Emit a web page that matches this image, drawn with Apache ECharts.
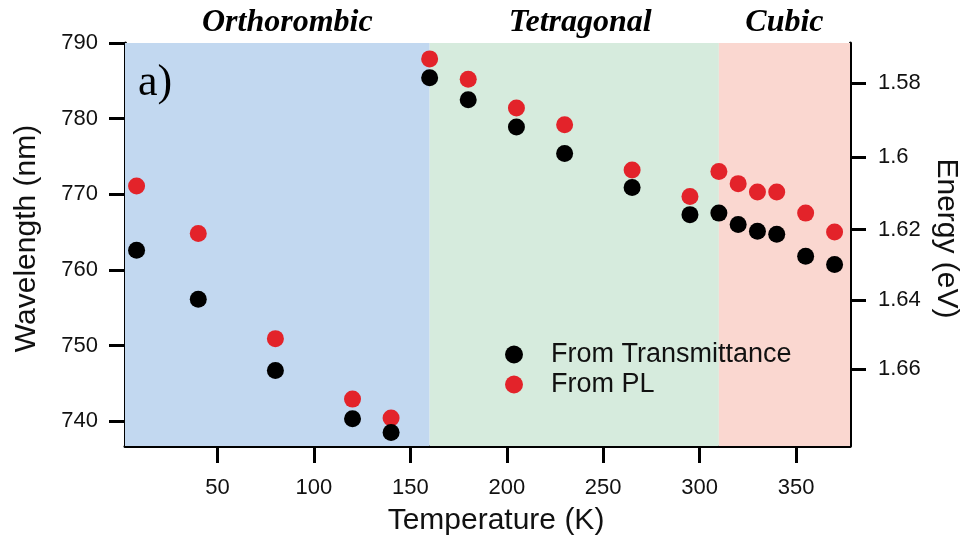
<!DOCTYPE html>
<html>
<head>
<meta charset="utf-8">
<title>Wavelength and energy vs temperature</title>
<script src="https://cdn.jsdelivr.net/npm/echarts@6.0.0/dist/echarts.min.js"></script>
<style>
  html, body { margin: 0; padding: 0; background: #ffffff; }
  #chart { width: 963px; height: 542px; }
</style>
</head>
<body>
<div id="chart"></div>
<script>
// Measurement temperatures (K), shared by both data sets
const temperatures = [8, 40, 80, 120, 140, 160, 180, 205, 230, 265, 295, 310, 320, 330, 340, 355, 370];
// Band-edge wavelength (nm) from transmittance spectra
const transmittance = [762.6, 756.1, 746.7, 740.3, 738.5, 785.4, 782.5, 778.9, 775.4, 770.9, 767.3, 767.5, 766.0, 765.1, 764.7, 761.8, 760.7];
// Emission peak wavelength (nm) from photoluminescence
const photoluminescence = [771.1, 764.8, 750.9, 742.9, 740.4, 787.9, 785.2, 781.4, 779.2, 773.2, 769.7, 773.0, 771.4, 770.3, 770.3, 767.5, 765.0];

// Crystal phase ranges (K)
const phaseNames = ['Orthorombic', 'Tetragonal', 'Cubic'];
const phaseStart = [2, 160, 310];
const phaseEnd = [160, 310, 378];
const phaseColors = ['#c2d8f0', '#d6ebdd', '#fad7d0'];

// Axis ticks
const temperatureTicks = [50, 100, 150, 200, 250, 300, 350];
const wavelengthTicks = [740, 750, 760, 770, 780, 790];
const energyTicks = [1.58, 1.6, 1.62, 1.64, 1.66];

// E (eV) = hc / lambda (nm)
const HC = 1239.84;

const sans = "'Liberation Sans', Arial, sans-serif";
const serif = "'Liberation Serif', 'Times New Roman', serif";

const toPairs = (xs, ys) => xs.map((x, i) => [x, ys[i]]);

const axisLineStyle = () => ({ show: true, lineStyle: { color: '#000', width: 3 } });
const tickStyle = (vals, len) => ({ show: true, inside: false, length: len, customValues: vals, lineStyle: { color: '#000', width: 3 } });

const chart = echarts.init(document.getElementById('chart'), null, { renderer: 'canvas' });

chart.setOption({
  animation: false,
  backgroundColor: '#ffffff',
  grid: { left: 125, right: 113, top: 43, bottom: 96, containLabel: false, outerBoundsMode: 'none' },
  legend: {
    orient: 'vertical',
    left: 500,
    top: 336,
    itemWidth: 18,
    itemHeight: 18,
    itemGap: 3,
    icon: 'circle',
    textStyle: { fontFamily: sans, fontSize: 27, color: '#111', padding: [0, 0, 0, 23] },
    data: ['From Transmittance', 'From PL']
  },
  xAxis: {
    type: 'value',
    min: 2,
    max: 378,
    name: 'Temperature (K)',
    nameLocation: 'middle',
    nameGap: 60,
    nameTextStyle: { fontFamily: sans, fontSize: 30, color: '#111', padding: [0, 0, 0, 17] },
    axisLine: axisLineStyle(),
    axisTick: tickStyle(temperatureTicks, 17),
    axisLabel: { customValues: temperatureTicks, margin: 31, fontFamily: sans, fontSize: 22, color: '#111' },
    splitLine: { show: false }
  },
  yAxis: [
    {
      type: 'value',
      position: 'left',
      min: 736.7,
      max: 790,
      name: 'Wavelength (nm)',
      nameLocation: 'middle',
      nameRotate: 90,
      nameGap: 83,
      nameTextStyle: { fontFamily: sans, fontSize: 30, color: '#111', padding: [0, 0, 0, 12] },
      axisLine: axisLineStyle(),
      axisTick: tickStyle(wavelengthTicks, 16),
      axisLabel: { customValues: wavelengthTicks, margin: 27, fontFamily: sans, fontSize: 22, color: '#111' },
      splitLine: { show: false }
    },
    {
      type: 'value',
      position: 'right',
      min: 736.7,
      max: 790,
      name: 'Energy (eV)',
      nameLocation: 'middle',
      nameRotate: -90,
      nameGap: 75,
      nameTextStyle: { fontFamily: sans, fontSize: 30, color: '#111', padding: [0, 12, 0, 0] },
      axisLine: axisLineStyle(),
      axisTick: tickStyle(energyTicks.map(e => HC / e), 16),
      axisLabel: {
        customValues: energyTicks.map(e => HC / e),
        margin: 28,
        fontFamily: sans,
        fontSize: 22,
        color: '#111',
        formatter: v => String(+(HC / v).toFixed(2))
      },
      splitLine: { show: false }
    }
  ],
  series: [
    {
      name: 'From Transmittance',
      type: 'scatter',
      yAxisIndex: 0,
      symbol: 'circle',
      symbolSize: 17,
      itemStyle: { color: '#000000', opacity: 1 },
      z: 3,
      data: toPairs(temperatures, transmittance),
      markArea: {
        silent: true,
        data: phaseNames.map((name, i) => [
          {
            name: name,
            xAxis: phaseStart[i],
            itemStyle: { color: phaseColors[i], opacity: 1 },
            label: { offset: [i === 0 ? 10 : (i === 1 ? 6 : 0), 0] }
          },
          { xAxis: phaseEnd[i] }
        ]),
        label: {
          show: true,
          position: 'top',
          distance: 4,
          fontFamily: serif,
          fontStyle: 'italic',
          fontWeight: 'bold',
          fontSize: 32,
          color: '#000'
        }
      }
    },
    {
      name: 'From PL',
      type: 'scatter',
      yAxisIndex: 0,
      symbol: 'circle',
      symbolSize: 17,
      itemStyle: { color: '#e3232a', opacity: 1 },
      z: 2,
      data: toPairs(temperatures, photoluminescence)
    }
  ],
  graphic: [
    {
      type: 'text',
      left: 138,
      top: 61,
      z: 100,
      style: { text: 'a)', fontFamily: serif, fontSize: 44, fill: '#000' }
    }
  ]
});
</script>
</body>
</html>
